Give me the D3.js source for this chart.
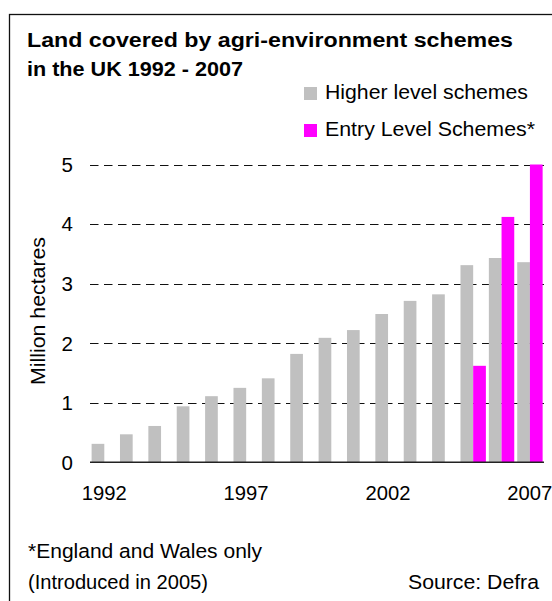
<!DOCTYPE html>
<html>
<head>
<meta charset="utf-8">
<script src="https://cdn.jsdelivr.net/npm/d3@7"></script>
<style>
  html, body { margin: 0; padding: 0; background: #fff; }
  svg { display: block; }
  text { font-family: "Liberation Sans", Arial, sans-serif; fill: #000; }
</style>
</head>
<body>
<svg id="chart" width="552" height="601"></svg>
<script>
// ---- data ----
const years = ["1992","1993","1994","1995","1996","1997","1998","1999","2000","2001","2002","2003","2004","2005","2006","2007"];
const higherLevel = [0.31,0.47,0.61,0.94,1.11,1.25,1.41,1.82,2.09,2.22,2.49,2.71,2.82,3.31,3.43,3.36];
const entryLevel  = [0,0,0,0,0,0,0,0,0,0,0,0,0,1.62,4.12,5.0];
const seriesNames = ["Higher level schemes", "Entry Level Schemes*"];
const yTicks = [0,1,2,3,4,5];
const xTickLabels = ["1992","1997","2002","2007"];
const titleLines = ["Land covered by agri-environment schemes", "in the UK 1992 - 2007"];
const footLines = ["*England and Wales only", "(Introduced in 2005)"];
const sourceText = "Source: Defra";
const yTitle = "Million hectares";

const colors = ["#c0c0c0", "#ff00ff"];
const FS = 20.5;

const svg = d3.select("#chart");

// outer frame (extends past right/bottom edge as in the reference)
svg.append("rect")
  .attr("x", 9.5).attr("y", 14.5)
  .attr("width", 600).attr("height", 640)
  .attr("fill", "none").attr("stroke", "#111").attr("stroke-width", 1.3);

// title
const titleLens = [486, 216];
svg.selectAll("text.title").data(titleLines).join("text")
  .attr("class", "title")
  .attr("x", 27).attr("y", (d, i) => 47 + i * 28.5)
  .attr("font-size", 19.5).attr("font-weight", "bold")
  .attr("textLength", (d, i) => titleLens[i]).attr("lengthAdjust", "spacingAndGlyphs")
  .text(d => d);

// scales
const x0 = d3.scaleBand().domain(years).range([90, 544]).padding(0);
const x1 = d3.scaleBand().domain(seriesNames).range([1.6, 27]).padding(0);
const y = d3.scaleLinear().domain([0, 5]).range([462.3, 164.5]);

// gridlines
svg.append("g").selectAll("line").data(yTicks.filter(t => t > 0)).join("line")
  .attr("x1", 90).attr("x2", 544)
  .attr("y1", d => Math.round(y(d)) + 0.5).attr("y2", d => Math.round(y(d)) + 0.5)
  .attr("stroke", "#111").attr("stroke-width", 1.1)
  .attr("stroke-dasharray", "8.5,5.5");

// bars
const rows = years.map((yr, i) => ({ yr, vals: [higherLevel[i], entryLevel[i]] }));
const groups = svg.append("g").selectAll("g").data(rows).join("g")
  .attr("transform", d => `translate(${x0(d.yr)},0)`);
groups.selectAll("rect").data(d => d.vals.map((v, k) => ({ v, k })).filter(e => e.v > 0)).join("rect")
  .attr("x", d => x1(seriesNames[d.k]))
  .attr("width", x1.bandwidth())
  .attr("y", d => y(d.v))
  .attr("height", d => y(0) - y(d.v))
  .attr("fill", d => colors[d.k]);

// baseline axis
svg.append("line")
  .attr("x1", 90).attr("x2", 544)
  .attr("y1", y(0)).attr("y2", y(0))
  .attr("stroke", "#222").attr("stroke-width", 1.5);

// y tick labels
svg.append("g").selectAll("text").data(yTicks).join("text")
  .attr("x", 73).attr("y", d => y(d)).attr("dy", "0.36em")
  .attr("text-anchor", "end").attr("font-size", FS)
  .text(d => d);

// x tick labels
svg.append("g").selectAll("text").data(xTickLabels).join("text")
  .attr("x", d => x0(d) + x0.bandwidth() / 2).attr("y", 500)
  .attr("text-anchor", "middle").attr("font-size", FS)
  .attr("textLength", 45).attr("lengthAdjust", "spacingAndGlyphs")
  .text(d => d);

// y axis title
svg.append("text")
  .attr("transform", "translate(45,311) rotate(-90)")
  .attr("text-anchor", "middle").attr("font-size", FS)
  .attr("textLength", 148).attr("lengthAdjust", "spacingAndGlyphs")
  .text(yTitle);

// legend
const leg = svg.append("g").selectAll("g").data(seriesNames).join("g")
  .attr("transform", (d, i) => `translate(304,${87 + i * 37})`);
leg.append("rect").attr("width", 13).attr("height", 13).attr("fill", (d, i) => colors[i]);
const legLens = [203, 210];
leg.append("text").attr("x", 21).attr("y", 12).attr("font-size", FS)
  .attr("textLength", (d, i) => legLens[i]).attr("lengthAdjust", "spacingAndGlyphs")
  .text(d => d);

// footnotes
const footLens = [234, 180];
svg.selectAll("text.foot").data(footLines).join("text")
  .attr("class", "foot")
  .attr("x", 28).attr("y", (d, i) => 558 + i * 31)
  .attr("font-size", FS)
  .attr("textLength", (d, i) => footLens[i]).attr("lengthAdjust", "spacingAndGlyphs")
  .text(d => d);

svg.append("text")
  .attr("x", 539).attr("y", 589).attr("text-anchor", "end")
  .attr("font-size", FS)
  .attr("textLength", 131).attr("lengthAdjust", "spacingAndGlyphs")
  .text(sourceText);
</script>
</body>
</html>
